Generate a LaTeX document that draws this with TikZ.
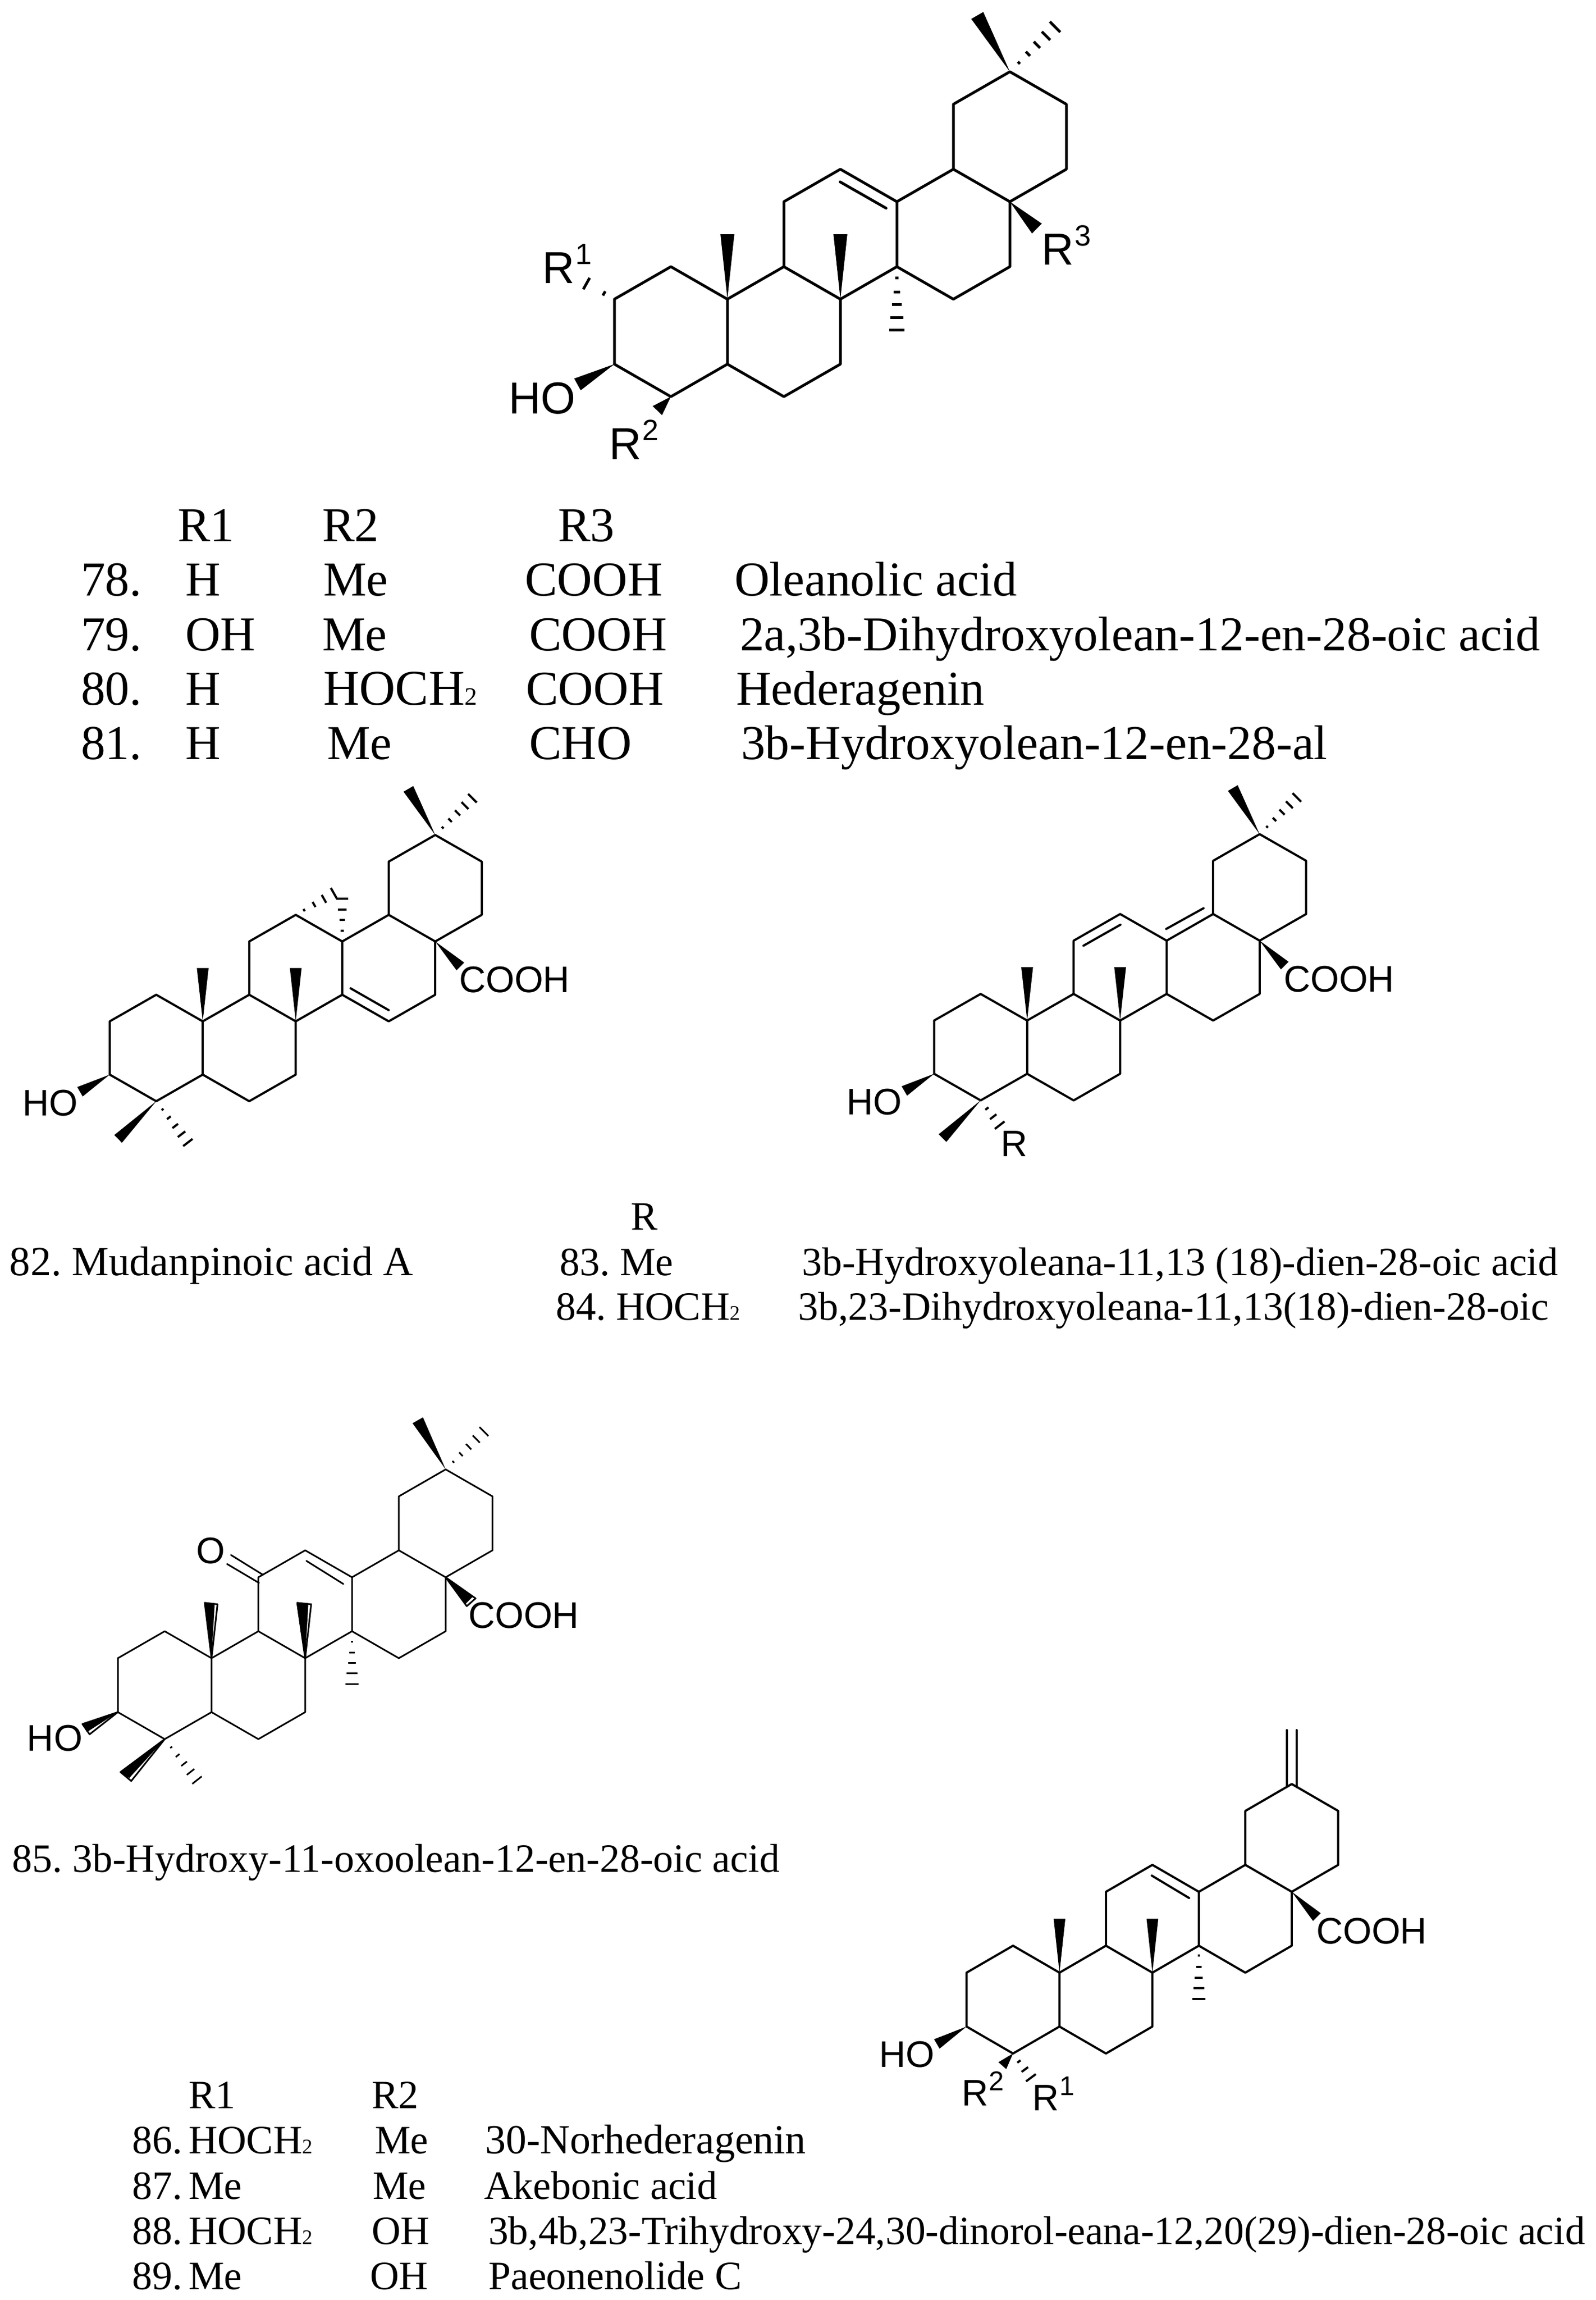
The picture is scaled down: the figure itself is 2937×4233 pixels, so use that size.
\documentclass[tikz,border=0pt]{standalone}
\usepackage{fontspec}
\usetikzlibrary{calc}
\setmainfont{Liberation Serif}
\newfontfamily\chemfont{Liberation Sans}
\newcommand{\skel}[1]{%
  \foreach \nm/\cc/\kk in {a07/0/7,a16/1/6,a27/2/7,a29/2/9,a110/1/10,a09/0/9,a36/3/6,a47/4/7,a49/4/9,a310/3/10,a34/3/4,a43/4/3,a54/5/4,a56/5/6,a63/6/3,a74/7/4,a76/7/6,a67/6/7,a61/6/1,a70/7/0,a81/8/1,a83/8/3}{%
    \coordinate (#1\nm) at (\cc,\kk);}%
  \draw (#1a07) -- (#1a16) -- (#1a27) -- (#1a29) -- (#1a110) -- (#1a09) -- cycle;
  \draw (#1a27) -- (#1a36) -- (#1a47) -- (#1a49) -- (#1a310) -- (#1a29);
  \draw (#1a47) -- (#1a56) -- (#1a54) -- (#1a43) -- (#1a34) -- (#1a36);
  \draw (#1a56) -- (#1a67) -- (#1a76) -- (#1a74) -- (#1a63) -- (#1a54);
  \draw (#1a74) -- (#1a83) -- (#1a81) -- (#1a70) -- (#1a61) -- (#1a63);
}
% solid wedge: atom, end offset (column, level), half width in pt
\newcommand{\wdg}[4]{%
  \coordinate (wE) at ($(#1)+(#2,#3)$);
  \fill (#1) -- ($(wE)!#4pt!90:(#1)$) -- ($(wE)!#4pt!-90:(#1)$) -- cycle;}
% hashed wedge: atom, end offset, half width in pt, list of fractions
\newcommand{\hsh}[5]{%
  \coordinate (hE) at ($(#1)+(#2,#3)$);
  \foreach \hv in {#5}{%
    \coordinate (hP) at ($(#1)!\hv!(hE)$);
    \draw[line cap=butt] ($(hP)!\hv*#4pt!90:(#1)$) -- ($(hP)!\hv*#4pt!-90:(#1)$);}}
% partly hollow wedge: atom, black corners a b, outline corners c d
\newcommand{\hwd}[5]{%
  \fill (#1) -- ($(#1)+#2$) -- ($(#1)+#3$) -- cycle;
  \draw (#1) -- ($(#1)+#4$) -- ($(#1)+#5$) -- cycle;}
\tikzset{
  bond/.style={line width=#1, line cap=round, line join=round},
  chemA/.style={anchor=base west, inner sep=0pt, outer sep=0pt, font=\chemfont\fontsize{20.6}{25}\selectfont},
  chemB/.style={anchor=base west, inner sep=0pt, outer sep=0pt, font=\chemfont\fontsize{17}{20}\selectfont},
  tblA/.style={anchor=base west, inner sep=0pt, outer sep=0pt, font=\fontsize{22.4}{27}\selectfont},
  tblB/.style={anchor=base west, inner sep=0pt, outer sep=0pt, font=\fontsize{18.5}{22}\selectfont},
}
\newcommand{\supA}[1]{\kern0.4pt\raisebox{8.6pt}{\fontsize{13.5}{15}\selectfont #1}}
\newcommand{\supB}[1]{\kern0.4pt\raisebox{6.8pt}{\fontsize{12.5}{14}\selectfont #1}}
\newcommand{\subA}{{\fontsize{11.5}{13}\selectfont 2}}
\newcommand{\subB}{{\fontsize{9.5}{11}\selectfont 2}}
\frenchspacing
\begin{document}
\begin{tikzpicture}[x=0.25pt,y=-0.25pt]
\useasboundingbox (0,0) rectangle (2937,4233);
\fill[white] (0,0) rectangle (2937,4233);

% ---------- 78-81
\begin{scope}[shift={(1131,132)},x=26pt,y=-14.95pt,bond=1.25pt]
  \skel{s}
  \draw (3.995,3.39) -- (4.81,4.2);
  \wdg{sa27}{0}{-2}{3.2}
  \wdg{sa47}{0}{-2}{3.2}
  \wdg{sa70}{-0.577}{-1.732}{3.2}
  \hsh{sa70}{0.8}{-1.38}{3.4}{0.2,0.4,0.6,0.8,1}
  \wdg{sa74}{0.479}{0.826}{3.2}
  \hsh{sa56}{0}{1.95}{3.6}{0.18,0.4,0.6,0.8,1}
  \wdg{sa09}{-0.654}{0.624}{3.1}
  \wdg{sa110}{-0.24}{0.43}{3}
  \hsh{sa07}{-0.494}{-0.48}{3}{0.37,1}
\end{scope}
\node[chemA] (ho1) at (936,761) {HO};
\node[chemA] (r1a) at (998,521) {R\supA{1}};
\node[chemA] (r2a) at (1121,845) {R\supA{2}};
\node[chemA] (r3a) at (1917,487) {R\supA{3}};

\node[tblA] (h1) at (327,996) {R1};
\node[tblA] (h2) at (593,996) {R2};
\node[tblA] (h3) at (1027,996) {R3};
\node[tblA] (n78) at (149,1096) {78.};
\node[tblA] (a78) at (341,1096) {H};
\node[tblA] (b78) at (595,1096) {Me};
\node[tblA] (c78) at (966,1096) {COOH};
\node[tblA] (d78) at (1352,1096) {Oleanolic acid};
\node[tblA] (n79) at (149,1197) {79.};
\node[tblA] (a79) at (341,1197) {OH};
\node[tblA] (b79) at (593,1197) {Me};
\node[tblA] (c79) at (974,1197) {COOH};
\node[tblA] (d79) at (1362,1197) {2a,3b-Dihydroxyolean-12-en-28-oic acid};
\node[tblA] (n80) at (149,1297) {80.};
\node[tblA] (a80) at (341,1297) {H};
\node[tblA,font=\fontsize{23}{27}\selectfont] (b80) at (595,1297) {HOCH\subA};
\node[tblA] (c80) at (968,1297) {COOH};
\node[tblA] (d80) at (1355,1297) {Hederagenin};
\node[tblA] (n81) at (149,1397) {81.};
\node[tblA] (a81) at (341,1397) {H};
\node[tblA] (b81) at (602,1397) {Me};
\node[tblA] (c81) at (974,1397) {CHO};
\node[tblA] (d81) at (1364,1397) {3b-Hydroxyolean-12-en-28-al};

% ---------- 82
\begin{scope}[shift={(202,1536.7)},x=21.4pt,y=-12.25pt,bond=1pt]
  \skel{t}
  \draw (5.18,5.76) -- (6,6.58);
  \wdg{ta27}{0}{-2}{2.7}
  \wdg{ta47}{0}{-2}{2.7}
  \wdg{ta70}{-0.577}{-1.732}{2.6}
  \hsh{ta70}{0.8}{-1.38}{2.8}{0.2,0.4,0.6,0.8,1}
  \wdg{ta74}{0.54}{0.937}{2.5}
  \wdg{ta09}{-0.64}{0.645}{2.5}
  \wdg{ta110}{-0.82}{1.416}{2.5}
  \hsh{ta110}{0.68}{1.55}{2.7}{0.2,0.4,0.6,0.8,1}
  \hsh{ta43}{0.82}{-0.81}{2.8}{0.22,0.48,0.74,1}
  \hsh{ta54}{0}{-1.61}{2.7}{0.25,0.5,0.75,1}
\end{scope}
\node[chemB] (ho2) at (41,2053) {HO};
\node[chemB] (co2) at (845,1826) {COOH};
\node[tblB,font=\fontsize{19.1}{23}\selectfont] (n82) at (18,2347) {82. Mudanpinoic acid A};

% ---------- 83-84
\begin{scope}[shift={(1719.6,1535.2)},x=21.4pt,y=-12.25pt,bond=1pt]
  \skel{u}
  \draw (3.21,4.19) -- (4.008,3.40);
  \draw (4.99,3.56) -- (5.795,2.78);
  \wdg{ua27}{0}{-2}{2.7}
  \wdg{ua47}{0}{-2}{2.7}
  \wdg{ua70}{-0.577}{-1.732}{2.6}
  \hsh{ua70}{0.8}{-1.38}{2.8}{0.2,0.4,0.6,0.8,1}
  \wdg{ua74}{0.54}{0.937}{2.5}
  \wdg{ua09}{-0.64}{0.645}{2.5}
  \wdg{ua110}{-0.82}{1.416}{2.5}
  \hsh{ua110}{0.41}{0.93}{2.8}{0.33,0.66,1}
\end{scope}
\node[chemB] (ho3) at (1558,2051) {HO};
\node[chemB] (co3) at (2363,1825) {COOH};
\node[chemB] (r3) at (1842,2128) {R};
\node[tblB] (hr) at (1161,2263) {R};
\node[tblB] (n83) at (1030,2347) {83. Me};
\node[tblB] (d83) at (1476,2347) {3b-Hydroxyoleana-11,13 (18)-dien-28-oic acid};
\node[tblB] (n84) at (1023,2429) {84. HOCH\subB};
\node[tblB] (d84) at (1469,2429) {3b,23-Dihydroxyoleana-11,13(18)-dien-28-oic};

% ---------- 85
\begin{scope}[shift={(217,2704.3)},x=21.55pt,y=-12.41pt,bond=0.75pt]
  \skel{v}
  \draw (4.025,3.39) -- (4.817,4.25);
  \draw (2.417,3.176) -- (3.098,3.908);
  \draw (2.332,3.507) -- (3.013,4.208);
  \hwd{va27}{(-0.145,-2.054)}{(0.068,-2.03)}{(-0.145,-2.054)}{(0.128,-2)}
  \hwd{va47}{(-0.17,-2.054)}{(0.068,-2.03)}{(-0.17,-2.054)}{(0.128,-2)}
  \wdg{va70}{-0.596}{-1.82}{2.75}
  \hsh{va70}{0.817}{-1.404}{2.9}{0.2,0.4,0.6,0.8,1}
  \hwd{va74}{(0.579,0.721)}{(0.426,0.982)}{(0.638,0.782)}{(0.451,1.072)}
  \hsh{va56}{0}{1.955}{3}{0.2,0.4,0.6,0.8,1}
  \hwd{va09}{(-0.757,0.441)}{(-0.664,0.741)}{(-0.757,0.441)}{(-0.604,0.822)}
  \hwd{va110}{(-0.945,1.222)}{(-0.757,1.443)}{(-0.945,1.222)}{(-0.715,1.553)}
  \hsh{va110}{0.69}{1.52}{2.75}{0.2,0.4,0.6,0.8,1}
\end{scope}
\node[chemB] (ho4) at (50,3222) {HO};
\node[chemB] (co4) at (862,2996) {COOH};
\node[chemB] (ox4) at (361,2877) {O};
\node[tblB] (n85) at (22,3445) {85. 3b-Hydroxy-11-oxoolean-12-en-28-oic acid};

% ---------- 86-89
\begin{scope}[shift={(1779.3,3283.3)},x=21.38pt,y=-12.4pt,bond=1pt]
  \skel{w}
  \draw (3.987,3.4) -- (4.79,4.23);
  \coordinate (wtopL) at (6.893,-2);
  \coordinate (wtopR) at (7.107,-2);
  \draw (wtopL) -- (6.893,0.107);
  \draw (wtopR) -- (7.107,0.107);
  \wdg{wa27}{0}{-2}{2.7}
  \wdg{wa47}{0}{-2}{2.7}
  \wdg{wa74}{0.54}{0.937}{2.5}
  \hsh{wa56}{0}{1.97}{3.1}{0.18,0.4,0.6,0.8,1}
  \wdg{wa09}{-0.64}{0.645}{2.5}
  \wdg{wa110}{-0.23}{0.45}{2.4}
  \hsh{wa110}{0.385}{0.90}{2.8}{0.33,0.66,1}
\end{scope}
\node[chemB] (ho5) at (1618,3804) {HO};
\node[chemB] (co5) at (2423,3577) {COOH};
\node[chemB] (r2e) at (1770,3875) {R\supB{2}};
\node[chemB] (r1e) at (1900,3884) {R\supB{1}};

\node[tblB] (h86a) at (347,3880) {R1};
\node[tblB] (h86b) at (684,3880) {R2};
\node[tblB] (n86) at (243,3963) {86.};
\node[tblB] (a86) at (347,3963) {HOCH\subB};
\node[tblB] (b86) at (690,3963) {Me};
\node[tblB,font=\fontsize{19}{23}\selectfont] (d86) at (893,3963) {30-Norhederagenin};
\node[tblB] (n87) at (243,4047) {87.};
\node[tblB] (a87) at (347,4047) {Me};
\node[tblB] (b87) at (686,4047) {Me};
\node[tblB] (d87) at (891,4047) {Akebonic acid};
\node[tblB] (n88) at (243,4130) {88.};
\node[tblB] (a88) at (347,4130) {HOCH\subB};
\node[tblB] (b88) at (684,4130) {OH};
\node[tblB,font=\fontsize{18.4}{22}\selectfont] (d88) at (899,4130) {3b,4b,23-Trihydroxy-24,30-dinorol-eana-12,20(29)-dien-28-oic acid};
\node[tblB] (n89) at (243,4213) {89.};
\node[tblB] (a89) at (347,4213) {Me};
\node[tblB] (b89) at (681,4213) {OH};
\node[tblB] (d89) at (899,4213) {Paeonenolide C};
\end{tikzpicture}
\end{document}
